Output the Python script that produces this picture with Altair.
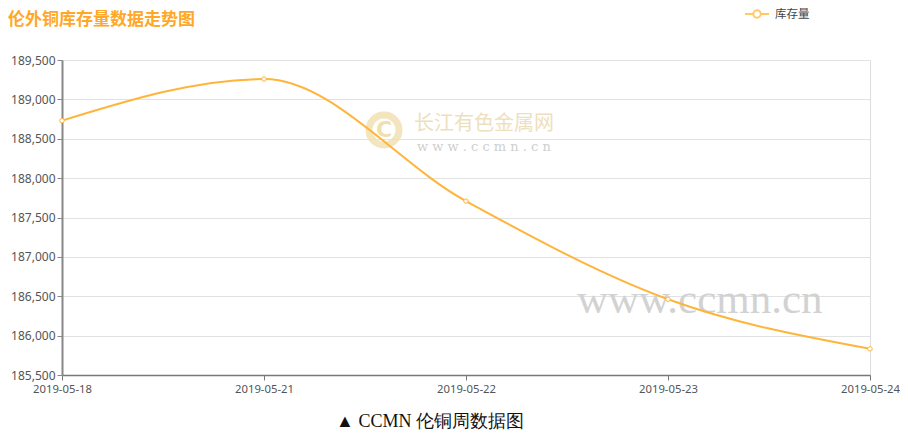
import altair as alt
import pandas as pd

dates = ["2019-05-18", "2019-05-21", "2019-05-22", "2019-05-23", "2019-05-24"]
stock = [188730, 189258, 187708, 186462, 185832]
y_ticks = [185500, 186000, 186500, 187000, 187500, 188000, 188500, 189000, 189500]

title_text = "伦外铜库存量数据走势图"
legend_text = "库存量"
caption_text = "▲  CCMN 伦铜周数据图"
wm_cn = "长江有色金属网"
wm_url = "w w w . c c m n . c n"
wm_big = "www.ccmn.cn"

df = pd.DataFrame({"date": dates, "stock": stock})

ORANGE = "#FFB43A"
W, H = 808, 315

xenc = alt.X("date:O", scale=alt.Scale(type="point", padding=0),
             axis=alt.Axis(title=None, labelAngle=0, labelColor="#555", labelFontSize=11.3,
                           labelFont="Noto Sans", domainColor="#777", domainWidth=1.5,
                           tickColor="#777", tickSize=5, labelPadding=3, grid=False,
                           labelOverlap=False))
yenc = alt.Y("stock:Q", scale=alt.Scale(domain=[185500, 189500], nice=False, zero=False),
             axis=alt.Axis(title=None, values=y_ticks, tickCount=9, format=",d", labelColor="#555",
                           labelFontSize=12, labelFont="Noto Sans", domainColor="#888",
                           domainWidth=2, tickColor="#888", tickSize=5, labelPadding=2,
                           gridColor="#e2e2e2", gridWidth=1, labelOverlap=False))

base = alt.Chart(df).encode(x=xenc, y=yenc)

line = base.mark_line(color=ORANGE, strokeWidth=2, interpolate="monotone")
pts = base.mark_point(filled=True, fill="white", stroke=ORANGE, strokeWidth=1, size=20, opacity=1)

ann = pd.DataFrame({"k": [0]})
ab = alt.Chart(ann)

title = ab.mark_text(text=title_text, align="left", baseline="middle", fontSize=17,
                     fontWeight="bold", color="#FFA726", font="Noto Sans CJK SC").encode(
    x=alt.value(-54), y=alt.value(-40))
leg_line = ab.mark_rule(color="#FFC966", strokeWidth=2).encode(
    x=alt.value(683), x2=alt.value(707), y=alt.value(-46))
leg_pt = ab.mark_point(filled=True, fill="white", stroke="#FFC966", strokeWidth=2, size=55, opacity=1).encode(
    x=alt.value(695), y=alt.value(-46))
leg_txt = ab.mark_text(text=legend_text, align="left", baseline="middle", fontSize=11.5,
                       color="#444", font="Noto Sans CJK SC").encode(x=alt.value(713), y=alt.value(-45))

logo = ab.mark_point(filled=False, stroke="#F1DFAE", strokeWidth=7, size=900, opacity=0.8).encode(
    x=alt.value(322), y=alt.value(70))
logo_c = ab.mark_text(text="C", fontSize=22, fontWeight="bold", color="#F1DFAE",
                      font="DejaVu Sans").encode(x=alt.value(322), y=alt.value(70))
wm1 = ab.mark_text(text=wm_cn, align="left", baseline="middle", fontSize=20, color="#EEDFBD",
                   font="Noto Sans CJK SC").encode(x=alt.value(352), y=alt.value(64))
wm2 = ab.mark_text(text=wm_url, align="left", baseline="middle", fontSize=13, color="#CFCFCF",
                   font="DejaVu Serif").encode(x=alt.value(355), y=alt.value(87))
wm3 = ab.mark_text(text=wm_big, align="left", baseline="middle", fontSize=43, color="#D2D2D2",
                   font="Liberation Serif").encode(x=alt.value(515), y=alt.value(240))

caption = ab.mark_text(text=caption_text, align="center", baseline="middle", fontSize=18,
                       color="#111", font="Liberation Serif").encode(x=alt.value(368), y=alt.value(362))

chart = alt.layer(logo, logo_c, wm1, wm2, wm3, line, pts, title, leg_line, leg_pt, leg_txt, caption).properties(
    width=W, height=H,
    autosize=alt.AutoSizeParams(type="none"),
    padding={"left": 54, "top": 52, "right": 30, "bottom": 55},
).configure_view(stroke=None).configure(background="white")

chart.save("out.html", embed_options={"renderer": "svg", "actions": False})
